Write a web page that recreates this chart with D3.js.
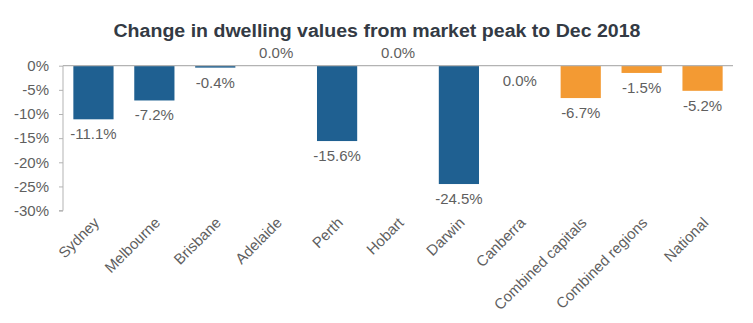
<!DOCTYPE html>
<html>
<head>
<meta charset="utf-8">
<script src="https://cdn.jsdelivr.net/npm/d3@7"></script>
<style>
  body { margin: 0; background: #fff; }
  text { font-family: "Liberation Sans", Arial, sans-serif; }
</style>
</head>
<body>
<div id="chart"></div>
<script>
const categories = ["Sydney", "Melbourne", "Brisbane", "Adelaide", "Perth", "Hobart",
  "Darwin", "Canberra", "Combined capitals", "Combined regions", "National"];
const values = [-11.1, -7.2, -0.4, 0.0, -15.6, 0.0, -24.5, -0.04, -6.7, -1.5, -5.2];
const groups = ["city", "city", "city", "city", "city", "city", "city", "city",
  "aggregate", "aggregate", "aggregate"];
const y_ticks = [0, -5, -10, -15, -20, -25, -30];

const width = 753, height = 323;
const margins = { top: 65.7, right: 20, bottom: 113, left: 63 };

const colours = { city: "#1f6091", aggregate: "#f39a33" };

const x_scale = d3.scaleBand()
  .domain(categories)
  .range([margins.left, width - margins.right])
  .paddingInner(0.34)
  .paddingOuter(0.17);
const y_scale = d3.scaleLinear()
  .domain([0, -30])
  .range([margins.top, height - margins.bottom + 0.6]);

const pct = v => (Math.abs(v) < 0.05 ? 0 : v).toFixed(1) + "%";

const svg = d3.select("#chart").append("svg")
  .attr("width", width)
  .attr("height", height);

svg.append("text")
  .attr("x", 377)
  .attr("y", 37)
  .attr("text-anchor", "middle")
  .attr("font-weight", "bold")
  .attr("font-size", 18)
  .attr("fill", "#333a44")
  .attr("textLength", 527)
  .attr("lengthAdjust", "spacingAndGlyphs")
  .text("Change in dwelling values from market peak to Dec 2018");

// y axis
const y_axis = d3.axisLeft(y_scale)
  .tickValues(y_ticks)
  .tickSize(4)
  .tickPadding(10)
  .tickFormat(d => d + "%");
const gy = svg.append("g")
  .attr("transform", "translate(" + margins.left + ",0)")
  .call(y_axis);
gy.selectAll("path, line").attr("stroke", "#b3b3b3");
gy.selectAll("text")
  .attr("font-size", 15)
  .attr("fill", "#5f5f5f")
  .style("font-family", "Liberation Sans, Arial, sans-serif");
gy.select(".domain").attr("d", "M-4," + y_scale(-30) + "H0V" + y_scale(0));

// bars
svg.append("g").selectAll("rect")
  .data(categories)
  .join("rect")
  .attr("x", d => x_scale(d))
  .attr("width", x_scale.bandwidth())
  .attr("y", (d, i) => y_scale(Math.max(0, values[i])))
  .attr("height", (d, i) => Math.abs(y_scale(values[i]) - y_scale(0)))
  .attr("fill", (d, i) => colours[groups[i]]);

// zero line
svg.append("line")
  .attr("x1", margins.left)
  .attr("x2", width - margins.right)
  .attr("y1", y_scale(0))
  .attr("y2", y_scale(0))
  .attr("stroke", "#b3b3b3")
  .attr("stroke-width", 1.2);

// value labels
svg.append("g").selectAll("text")
  .data(categories)
  .join("text")
  .attr("x", d => x_scale(d) + x_scale.bandwidth() / 2)
  .attr("y", (d, i) => values[i] >= 0 ? y_scale(0) - 8 : y_scale(values[i]) + 20)
  .attr("text-anchor", "middle")
  .attr("font-size", 15)
  .attr("fill", "#5f5f5f")
  .text((d, i) => pct(values[i]));

// x labels
svg.append("g").selectAll("text")
  .data(categories)
  .join("text")
  .attr("transform", d => "translate(" + (x_scale(d) + x_scale.bandwidth() / 2 + 3) + ",220) rotate(-45)")
  .attr("text-anchor", "end")
  .attr("dy", "0.35em")
  .attr("font-size", 15)
  .attr("fill", "#5f5f5f")
  .text(d => d);
</script>
</body>
</html>
